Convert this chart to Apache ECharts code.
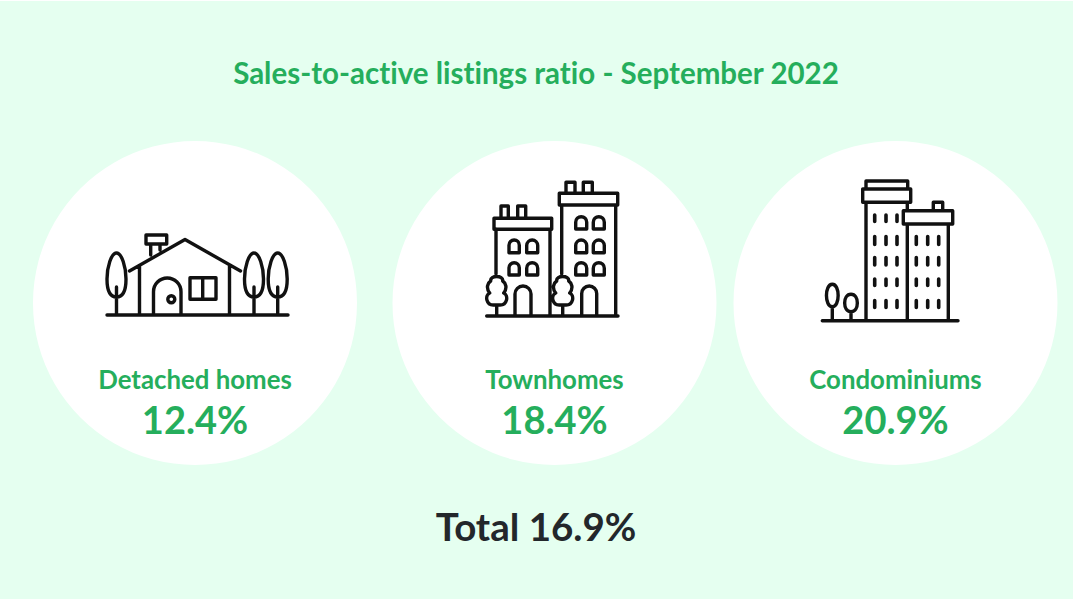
<!DOCTYPE html>
<html>
<head>
<meta charset="utf-8">
<script src="https://cdn.jsdelivr.net/npm/echarts@6/dist/echarts.min.js"></script>
<style>
html, body { margin: 0; padding: 0; background: #fff; }
#panel { position: absolute; left: 0; top: 1px; width: 1073px; height: 598px; background: #e5fff0; }
#chart { position: absolute; left: 0; top: 0; width: 1080px; height: 604px; }
text { font-variant-ligatures: none; }
</style>
</head>
<body>
<div id="panel"></div>
<div id="chart"></div>
<script>
var categories = ['Detached homes', 'Townhomes', 'Condominiums'];
var ratios = [12.4, 18.4, 20.9];
var totalRatio = 16.9;
var titleText = 'Sales-to-active listings ratio - September 2022';

var green = '#25ae5c';
var centers = [195, 554.5, 895.5];

var chart = echarts.init(document.getElementById('chart'), null, { renderer: 'svg' });

// arched window or door
function arch(x0, x1, y0, y1) {
    var r = (x1 - x0) / 2;
    return 'M' + x0 + ',' + y1 + 'V' + (y0 + r) + 'A' + r + ',' + r + ' 0 0 1 ' + x1 + ',' + (y0 + r) + 'V' + y1;
}
function rect(x0, x1, y0, y1) {
    return 'M' + x0 + ',' + y0 + 'H' + x1 + 'V' + y1 + 'H' + x0 + 'Z';
}
function poplar(cx, top, bottom, r) {
    var m = bottom - r * 1.9;
    return 'M' + cx + ',' + top +
        'C' + (cx + r * 0.55) + ',' + top + ' ' + (cx + r) + ',' + (m - 12) + ' ' + (cx + r) + ',' + m +
        'C' + (cx + r) + ',' + (bottom - 4) + ' ' + (cx + r * 0.6) + ',' + bottom + ' ' + cx + ',' + bottom +
        'C' + (cx - r * 0.6) + ',' + bottom + ' ' + (cx - r) + ',' + (bottom - 4) + ' ' + (cx - r) + ',' + m +
        'C' + (cx - r) + ',' + (m - 12) + ' ' + (cx - r * 0.55) + ',' + top + ' ' + cx + ',' + top + 'Z';
}
function oval(cx, top, bottom, r) {
    return 'M' + cx + ',' + top + 'C' + (cx + r * 1.3) + ',' + top + ' ' + (cx + r * 1.3) + ',' + bottom + ' ' + cx + ',' + bottom +
        'C' + (cx - r * 1.3) + ',' + bottom + ' ' + (cx - r * 1.3) + ',' + top + ' ' + cx + ',' + top + 'Z';
}
// bumpy tree in front of the townhouses
function bush(cx, top) {
    return 'M' + (cx - 2) + ',' + (top + 31) +
        'C' + (cx - 11) + ',' + (top + 32) + ' ' + (cx - 12) + ',' + (top + 21) + ' ' + (cx - 7) + ',' + (top + 19) +
        'C' + (cx - 11) + ',' + (top + 14) + ' ' + (cx - 9) + ',' + (top + 9) + ' ' + (cx - 6) + ',' + (top + 7) +
        'C' + (cx - 7) + ',' + (top + 1) + ' ' + (cx + 7) + ',' + (top + 1) + ' ' + (cx + 6) + ',' + (top + 7) +
        'C' + (cx + 9) + ',' + (top + 9) + ' ' + (cx + 11) + ',' + (top + 14) + ' ' + (cx + 7) + ',' + (top + 19) +
        'C' + (cx + 12) + ',' + (top + 21) + ' ' + (cx + 11) + ',' + (top + 32) + ' ' + (cx + 2) + ',' + (top + 31) + 'Z';
}

function housePath() {
    var d = 'M107,315H288';
    d += poplar(116.5, 253, 297, 9.5) + 'M116.5,287V315';
    d += poplar(254, 253, 297, 9.5) + 'M254,287V315';
    d += poplar(277.7, 253, 297, 9.5) + 'M277.7,287V315';
    d += 'M129.5,271L185,239.5L240.5,271';
    d += 'M139.5,266V315M229.5,266V315';
    d += rect(146, 166.7, 235, 244) + 'M150.7,244V255M160,244V250';
    d += arch(153.5, 181, 278, 315);
    d += 'M174.8,299.3A3.5,3.5 0 1 1 167.8,299.3A3.5,3.5 0 1 1 174.8,299.3Z';
    d += rect(190, 216, 277.7, 299.3) + 'M202.7,277.7V299.3';
    return d;
}

function townPath() {
    var d = 'M486.7,316H618';
    // left building
    d += 'M496,229V274M550,229V316';
    d += rect(494, 551.7, 218.3, 229.3);
    d += 'M501,218V206H508.3V218M517.7,218V206H525.7V218';
    [[509, 519.3], [526.7, 537.7]].forEach(function (c) {
        [[240, 252.7], [262.7, 275]].forEach(function (r) {
            d += arch(c[0], c[1], r[0], r[1]) + 'Z';
        });
    });
    d += arch(515, 531, 286, 316);
    d += bush(496.7, 274) + 'M496.7,305V316';
    // right building
    d += 'M561.7,205V274M615.7,205V316';
    d += rect(559.3, 617.7, 193.3, 205);
    d += 'M566,193V182.3H575V193M583.3,193V182.3H592.3V193';
    [[575.7, 586.7], [593.3, 604.3]].forEach(function (c) {
        [[216.7, 229], [240, 252.7], [262.7, 275]].forEach(function (r) {
            d += arch(c[0], c[1], r[0], r[1]) + 'Z';
        });
    });
    d += arch(581.7, 596.7, 286, 316);
    d += bush(562.7, 274) + 'M562.7,305V316';
    return d;
}

function condoPath() {
    var d = 'M822.3,320.7H958';
    d += 'M866,202.3V320.7M907.3,224V320.7M907.3,202.3V210.7M948.3,224V320.7';
    d += rect(862.7, 910.7, 189, 202.3);
    d += 'M866,189V181H907.7V189';
    d += rect(903.3, 952.7, 210.7, 224);
    d += 'M933.3,210.7V202.3H942.7V210.7';
    d += oval(832.3, 284.3, 306.7, 6) + 'M832.3,306.7V320.7';
    d += oval(851, 294.3, 311.7, 6.5) + 'M851,311.7V320.7';
    return d;
}
function condoWindows() {
    var d = '';
    var rows = [[215, 221.5], [236.5, 244.5], [257.5, 265], [279, 285.5], [300.5, 307.5]];
    [874.7, 886, 897].forEach(function (x) {
        rows.forEach(function (r) { d += 'M' + x + ',' + r[0] + 'V' + r[1]; });
    });
    [916.3, 927.7, 938.7].forEach(function (x) {
        rows.slice(1).forEach(function (r) { d += 'M' + x + ',' + r[0] + 'V' + r[1]; });
    });
    return d;
}

function icon(pathData, width) {
    return {
        type: 'path',
        shape: { pathData: pathData },
        style: { fill: 'none', stroke: '#111', lineWidth: width || 3.4, lineJoin: 'round', lineCap: 'round' }
    };
}

// one pie per circle, the unequal gaps rule out a shared axis
var series = categories.map(function (name, i) {
    return {
        type: 'pie',
        silent: true,
        center: [centers[i], 303],
        radius: [0, 162],
        itemStyle: { color: '#fff' },
        labelLine: { show: false },
        data: [{ name: name, value: ratios[i] }],
        label: {
            position: 'center',
            offset: [0, 97.5],
            formatter: '{n|{b}}\n{v|{c}%}',
            rich: {
                n: { fontFamily: 'Lato', fontWeight: 700, fontSize: 25.8, color: green, lineHeight: 36 },
                v: { fontFamily: 'Lato', fontWeight: 700, fontSize: 38, color: green, lineHeight: 44 }
            }
        }
    };
});

// line icons sit on top of the circles
series.push({
    type: 'custom',
    coordinateSystem: 'none',
    silent: true,
    z: 10,
    data: [0],
    renderItem: function () {
        return {
            type: 'group',
            children: [
                icon(housePath()),
                icon(townPath()),
                icon(condoPath()),
                icon(condoWindows(), 3.6)
            ]
        };
    }
});

var option = {
    animation: false,
    title: [
        {
            text: titleText,
            left: 536,
            top: 57,
            padding: 0,
            textAlign: 'center',
            textStyle: { fontFamily: 'Lato', fontWeight: 700, fontSize: 29.5, color: green }
        },
        {
            text: 'Total ' + totalRatio + '%',
            left: 536,
            top: 506,
            padding: 0,
            textAlign: 'center',
            textStyle: { fontFamily: 'Lato', fontWeight: 700, fontSize: 38.5, color: '#23272b' }
        }
    ],
    series: series
};

chart.setOption(option);
</script>
</body>
</html>
